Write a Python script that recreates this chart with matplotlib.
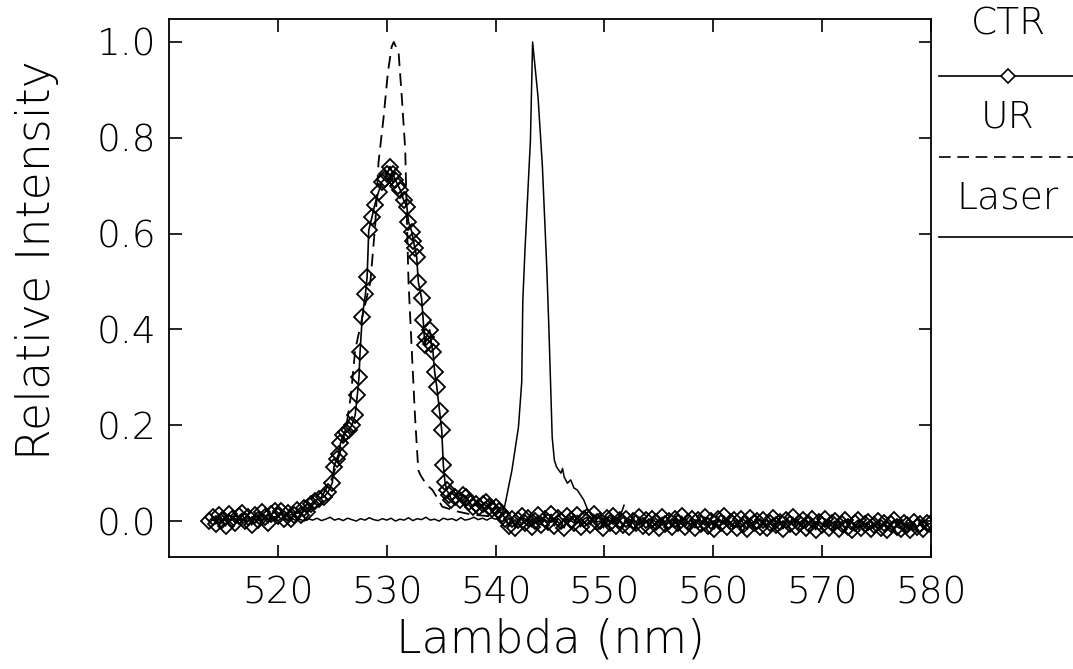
import numpy as np
import matplotlib
matplotlib.use("Agg")
import matplotlib.pyplot as plt

# ---- data ----
# CTR (diamonds + solid line)
ctr_left_x = np.arange(513.7, 522.75, 0.3)
ctr_left_y = [0.000, 0.008, -0.006, 0.012, 0.002, -0.010, 0.014, 0.004, -0.004, 0.010,
              0.016, 0.000, 0.008, -0.008, 0.012, 0.003, 0.018, 0.008, -0.004, 0.014,
              0.022, 0.010, 0.020, 0.004, 0.016, 0.004, 0.012, 0.024, 0.012, 0.028,
              0.018]
ctr_peak_x = [523.0, 523.4, 523.8, 524.2, 524.6, 525.0, 525.15, 525.4, 525.6, 525.75,
              526.0, 526.3, 526.5, 526.8, 527.1, 527.3, 527.45, 527.55, 527.75, 528.05,
              528.2, 528.35, 528.65, 528.9, 529.25, 529.55, 529.85, 530.05, 530.3, 530.55,
              530.8, 531.05, 531.25, 531.55, 531.85, 532.0, 532.3, 532.45, 532.6, 532.75,
              532.9, 533.2, 533.35, 533.5, 533.65, 533.95, 534.1, 534.25, 534.4, 534.6,
              534.85, 535.05, 535.2, 535.35, 535.5, 535.75, 535.95, 536.3, 536.7, 537.0,
              537.3, 537.6, 537.9, 538.2, 538.5]
ctr_peak_y = [0.035, 0.042, 0.047, 0.050, 0.060, 0.080, 0.113, 0.130, 0.141, 0.162,
              0.180, 0.186, 0.190, 0.200, 0.221, 0.263, 0.300, 0.353, 0.426, 0.475,
              0.510, 0.607, 0.635, 0.660, 0.687, 0.708, 0.715, 0.725, 0.740, 0.725,
              0.712, 0.700, 0.691, 0.670, 0.656, 0.625, 0.604, 0.585, 0.569, 0.552,
              0.500, 0.465, 0.420, 0.367, 0.385, 0.399, 0.370, 0.353, 0.312, 0.280,
              0.230, 0.190, 0.117, 0.082, 0.065, 0.055, 0.044, 0.050, 0.045, 0.055,
              0.051, 0.040, 0.030, 0.035, 0.030]
ctr_right_x = np.arange(538.8, 580.0, 0.3)
ctr_right_y = [0.035, 0.040, 0.030, 0.025, 0.030, 0.020, 0.015, 0.005, -0.010, 0.004,
               -0.014, 0.002, 0.010, -0.004, 0.006, -0.012, 0.000, 0.012, -0.008, 0.004,
               -0.002, 0.014, -0.010, 0.006, 0.000, -0.014, 0.010, 0.002, -0.004, 0.012,
               -0.012, 0.004, 0.008, -0.008, 0.014, -0.002, 0.000, -0.014, 0.006, -0.004,
               0.010, -0.010, 0.002, -0.008, 0.004, -0.012, 0.000, -0.004, 0.008, -0.010,
               0.002, -0.012, 0.004, -0.002, -0.014, 0.008, -0.006, 0.000, -0.012, 0.004,
               -0.004, 0.010, -0.012, -0.002, 0.004, -0.014, 0.002, -0.006, 0.008, -0.010,
               0.000, -0.016, 0.004, -0.004, 0.010, -0.012, -0.002, 0.002, -0.014, 0.004,
               -0.006, -0.016, 0.006, -0.004, 0.000, -0.012, 0.002, -0.014, -0.004, 0.006,
               -0.008, -0.002, -0.016, 0.002, -0.006, 0.008, -0.012, -0.004, 0.002, -0.014,
               -0.006, 0.004, -0.018, -0.002, -0.008, 0.004, -0.014, -0.004, 0.000, -0.016,
               -0.006, 0.002, -0.012, -0.018, -0.004, 0.002, -0.014, -0.006, -0.002, -0.016,
               -0.008, 0.000, -0.014, -0.004, -0.018, -0.006, 0.002, -0.012, -0.016, -0.004,
               -0.008, -0.018, -0.002, -0.012, -0.006, -0.016, -0.004, -0.006]

# UR (dashed)
ur_x = [519.0, 520.0, 521.0, 522.0, 523.0, 524.0, 525.0, 525.8, 526.3, 526.7,
        527.1, 527.8, 528.5, 528.95, 529.25, 529.7, 530.1, 530.45, 530.65, 530.85,
        531.1, 531.4, 531.7, 531.84, 532.0, 532.3, 532.6, 532.9, 533.1, 533.4,
        533.7, 534.2, 534.6, 535.1, 535.8, 536.5, 537.5, 538.5, 539.5]
ur_y = [0.005, 0.010, 0.012, 0.018, 0.030, 0.050, 0.090, 0.150, 0.200, 0.260,
        0.357, 0.430, 0.500, 0.620, 0.750, 0.840, 0.935, 0.990, 1.000, 0.990,
        0.975, 0.880, 0.775, 0.640, 0.500, 0.357, 0.218, 0.106, 0.096, 0.085,
        0.075, 0.065, 0.050, 0.030, 0.025, 0.020, 0.015, 0.012, 0.010]

# Laser (thin solid)
laser_base_x = np.arange(514.0, 540.5, 0.4)
laser_base_y = [0.002, 0.005, 0.001, 0.004, 0.000, 0.006, 0.002, 0.004, -0.001, 0.005,
                0.003, 0.000, 0.006, 0.002, 0.004, 0.001, 0.005, 0.003, 0.007, 0.002,
                0.004, 0.000, 0.005, 0.002, 0.006, 0.001, 0.004, 0.008, 0.002, 0.005,
                0.001, 0.006, 0.003, 0.000, 0.005, 0.002, 0.007, 0.003, 0.001, 0.005,
                0.002, 0.006, 0.000, 0.004, 0.002, 0.007, 0.001, 0.005, 0.003, 0.008,
                0.002, 0.004, 0.000, 0.006, 0.003, 0.005, 0.001, 0.007, 0.002, 0.004,
                0.008, 0.003, 0.006, 0.002, 0.007, 0.004, 0.010]
laser_peak_x = [540.8, 541.5, 542.1, 542.4, 542.5, 542.7, 543.2, 543.4, 543.9, 544.3,
                544.7, 544.9, 545.2, 545.4, 545.6, 546.0, 546.15, 546.3, 546.6, 546.9,
                547.2, 547.5, 547.7, 548.1, 548.4, 548.8, 549.2, 549.6, 550.0, 550.4,
                550.8, 551.2, 551.6, 551.8]
laser_peak_y = [0.027, 0.106, 0.196, 0.290, 0.460, 0.566, 0.795, 1.000, 0.885, 0.740,
                0.530, 0.400, 0.175, 0.127, 0.113, 0.100, 0.110, 0.092, 0.079, 0.086,
                0.069, 0.065, 0.058, 0.044, 0.027, 0.012, 0.006, 0.009, 0.004, 0.008,
                0.003, 0.007, 0.020, 0.033]

ctr_x = np.concatenate([ctr_left_x, ctr_peak_x, ctr_right_x])
ctr_y = np.concatenate([ctr_left_y, ctr_peak_y, ctr_right_y])
laser_x = np.concatenate([laser_base_x, laser_peak_x])
laser_y = np.concatenate([laser_base_y, laser_peak_y])

x_ticks = [520, 530, 540, 550, 560, 570, 580]
y_ticks = [0.0, 0.2, 0.4, 0.6, 0.8, 1.0]

plt.rcParams['font.family'] = ['DejaVu Sans']
plt.rcParams['font.weight'] = 'light'
plt.rcParams['axes.labelweight'] = 'light'

fig = plt.figure(figsize=(10.73, 6.69), dpi=100)
ax = fig.add_axes([0.1575, 0.1674, 0.7102, 0.8042])

ax.plot(laser_x, laser_y, color='black', linewidth=1.1)
ax.plot(ur_x, ur_y, color='black', linewidth=1.3, linestyle=(0, (7, 4)))
ax.plot(ctr_x, ctr_y, color='black', linewidth=1.2, marker='D', markersize=8,
        markerfacecolor='none', markeredgecolor='black', markeredgewidth=1.3)

ax.set_xlim(510, 580)
ax.set_ylim(-0.075, 1.048)
ax.set_xticks(x_ticks)
ax.set_yticks(y_ticks)
ax.set_yticklabels(['%.1f' % v for v in y_ticks])
ax.tick_params(direction='in', length=9, width=1.2, top=True, right=True,
               labelsize=27, colors='black')
ax.tick_params(axis='x', pad=13)
ax.tick_params(axis='y', pad=9)
for s in ax.spines.values():
    s.set_linewidth(1.3)

ax.set_xlabel('Lambda (nm)', fontsize=33, fontweight='light')
ax.xaxis.set_label_coords(0.5, -0.112)
ax.set_ylabel('Relative Intensity', fontsize=33, fontweight='light')
ax.yaxis.set_label_coords(-0.145, 0.552)

# legend drawn to the right of the axes, label above each line sample
lg = fig.add_axes([0.8686, 0.0, 0.1314, 1.0])
lg.set_xlim(932, 1073)
lg.set_ylim(669, 0)
lg.axis('off')
legend_items = [('CTR', 24, 76, '-', 'D'), ('UR', 117, 157, (0, (7, 4)), None),
                ('Laser', 198, 237, '-', None)]
for name, ty, ly, ls, mk in legend_items:
    lg.text(1008, ty, name, ha='center', va='center', fontsize=27)
    lg.plot([939, 1073], [ly, ly], color='black', linewidth=1.2, linestyle=ls)
    if mk:
        lg.plot([1008], [ly], marker=mk, markersize=7, markerfacecolor='white',
                markeredgecolor='black', markeredgewidth=1.2)

fig.savefig('out.png', dpi=100)
